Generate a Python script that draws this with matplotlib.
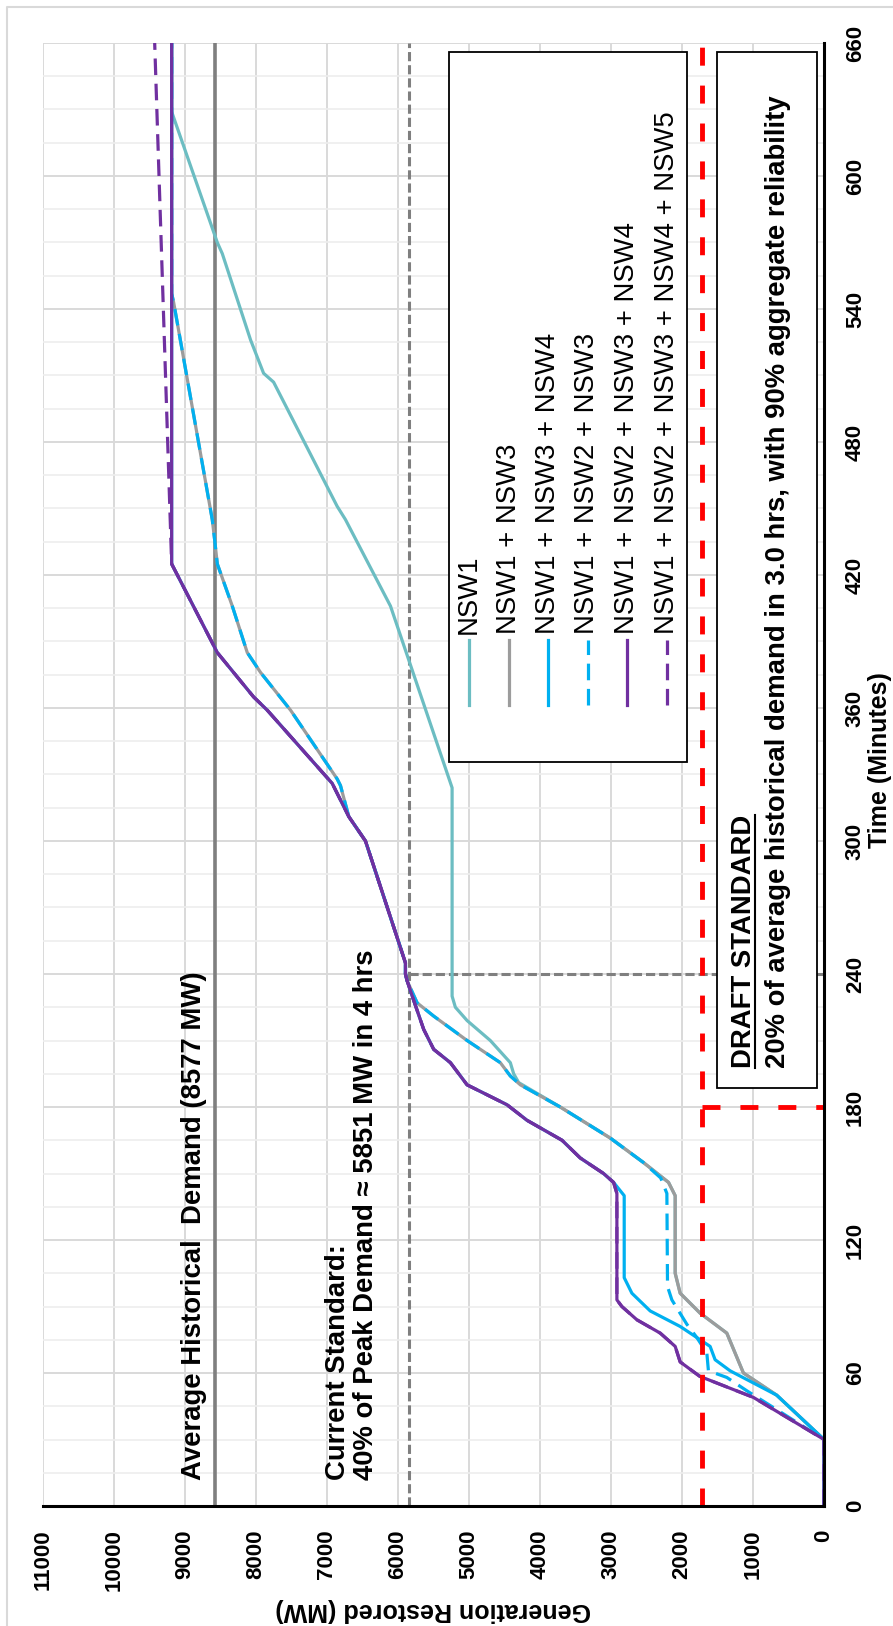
import matplotlib
matplotlib.use("Agg")
import matplotlib.pyplot as plt
from matplotlib.lines import Line2D
from matplotlib.patches import Rectangle
from matplotlib.ticker import MultipleLocator

plt.rcParams["font.family"] = ["Liberation Sans", "DejaVu Sans"]

# ---------------- restoration trajectories (minutes, MW) ----------------
t_nsw1 = [0, 30, 50, 60, 78, 87, 96, 105, 140, 146, 155, 166, 180, 191, 195, 200,
          210, 219, 225, 230, 324, 406, 445, 451, 507, 511, 526, 565, 570, 629, 660]
mw_nsw1 = [0, 0, 666, 1135, 1369, 1745, 2026, 2096, 2096, 2190, 2545, 3011, 3715, 4300,
           4371, 4418, 4700, 5027, 5192, 5238, 5238, 6106, 6740, 6857, 7752, 7893, 8076,
           8475, 8545, 9188, 9188]

t_nsw13 = [0, 30, 50, 60, 78, 87, 96, 105, 140, 146, 155, 166, 180, 190, 194, 200, 210,
           221, 227, 237, 240, 245, 300, 311, 325, 328, 359, 376, 385, 406, 425, 436, 445,
           543, 547, 660]
mw_nsw13 = [0, 0, 666, 1135, 1369, 1745, 2026, 2096, 2096, 2190, 2545, 3011, 3715, 4277,
            4418, 4559, 5027, 5497, 5731, 5872, 5895, 5895, 6458, 6693, 6810, 6857, 7513,
            7935, 8123, 8334, 8545, 8583, 8616, 9160, 9188, 9188]

t_nsw134 = [0, 30, 50, 61, 66, 72, 76, 81, 88, 96, 103, 140, 146, 150, 157, 165, 174, 181,
            190, 200, 206, 215, 228, 237, 240, 245, 300, 311, 326, 359, 365, 385, 425, 660]
mw_nsw134 = [0, 0, 666, 1323, 1534, 1604, 1791, 2026, 2448, 2706, 2814, 2814, 2964, 3105,
             3433, 3690, 4183, 4464, 5027, 5262, 5497, 5638, 5778, 5872, 5895, 5895, 6458,
             6693, 6927, 7841, 8034, 8545, 9188, 9188]

t_nsw123 = [0, 30, 52, 58, 61, 69, 76, 82, 93, 99, 141, 148, 155, 166, 180, 190, 194, 200,
            210, 221, 227, 237, 240, 245, 300, 311, 325, 328, 359, 376, 385, 406, 425, 436,
            445, 543, 547, 660]
mw_nsw123 = [0, 0, 1088, 1369, 1628, 1650, 1791, 1932, 2143, 2204, 2213, 2300, 2545, 3011,
             3715, 4277, 4418, 4559, 5027, 5497, 5731, 5872, 5895, 5895, 6458, 6693, 6810,
             6857, 7513, 7935, 8123, 8334, 8545, 8583, 8616, 9160, 9188, 9188]

t_nsw1234 = [0, 30, 49, 58.5, 65, 72, 78, 84, 90, 93, 141, 146, 150, 157, 165, 174, 181,
             190, 200, 206, 215, 228, 237, 240, 245, 300, 311, 326, 359, 365, 385, 425, 660]
mw_nsw1234 = [0, 0, 995, 1750, 2026, 2096, 2307, 2635, 2847, 2917, 2917, 2964, 3105, 3433,
              3690, 4183, 4464, 5027, 5262, 5497, 5638, 5778, 5872, 5895, 5895, 6458, 6693,
              6927, 7841, 8034, 8545, 9188, 9188]

t_nsw12345 = [0, 30, 49, 58.5, 65, 72, 78, 84, 90, 93, 141, 146, 150, 157, 165, 174, 181,
              190, 200, 206, 215, 228, 237, 240, 245, 300, 311, 326, 359, 365, 385, 425, 660]
mw_nsw12345 = [0, 0, 995, 1750, 2026, 2096, 2307, 2635, 2847, 2917, 2917, 2964, 3105, 3433,
               3690, 4183, 4464, 5027, 5262, 5497, 5638, 5778, 5872, 5895, 5895, 6458, 6693,
               6927, 7841, 8034, 8545, 9188, 9427]

series_labels = ["NSW1", "NSW1 + NSW3", "NSW1 + NSW3 + NSW4", "NSW1 + NSW2 + NSW3",
                 "NSW1 + NSW2 + NSW3 + NSW4", "NSW1 + NSW2 + NSW3 + NSW4 + NSW5"]
series_colors = ["#6CBDC2", "#9C9C9C", "#00B0F0", "#00B0F0", "#7030A0", "#7030A0"]
series_dashed = [False, False, False, True, False, True]
series_t = [t_nsw1, t_nsw13, t_nsw134, t_nsw123, t_nsw1234, t_nsw12345]
series_mw = [mw_nsw1, mw_nsw13, mw_nsw134, mw_nsw123, mw_nsw1234, mw_nsw12345]

# ---------------- standards ----------------
avg_demand_mw = 8577
current_std_mw = 5851
current_std_min = 240
draft_std_mw = 0.2 * avg_demand_mw
draft_std_min = 180

mw_ticks = list(range(0, 11001, 1000))
time_ticks = list(range(0, 661, 60))

# ---------------- figure ----------------
W, H = 893, 1626
fig = plt.figure(figsize=(W / 100, H / 100), dpi=100)
fig.patch.set_facecolor("white")
px_l, px_r, px_t, px_b = 43, 824, 43, 1506
ax = fig.add_axes([px_l / W, 1 - px_b / H, (px_r - px_l) / W, (px_b - px_t) / H])

ax.set_xlim(11000, 0)
ax.set_ylim(0, 660)
ax.set_xticks(mw_ticks)
ax.set_yticks(time_ticks)
ax.yaxis.set_minor_locator(MultipleLocator(15))
ax.set_axisbelow(True)
ax.grid(which="major", color="#D9D9D9", lw=1.4)
ax.grid(which="minor", axis="y", color="#EEEEEE", lw=1.2)

for side in ("left", "top"):
    ax.spines[side].set_visible(False)
for side in ("right", "bottom"):
    ax.spines[side].set_color("black")
    ax.spines[side].set_linewidth(2.2)
    ax.spines[side].set_zorder(7)

ax.yaxis.tick_right()
ax.tick_params(axis="both", which="both", length=0)
ax.tick_params(axis="x", pad=17, labelsize=16)
ax.tick_params(axis="y", pad=15, labelsize=16)
for lbl in ax.get_xticklabels():
    lbl.set_rotation(90)
    lbl.set_ha("center")
    lbl.set_va("top")
    lbl.set_fontweight("bold")
for lbl in ax.get_yticklabels():
    lbl.set_rotation(90)
    lbl.set_ha("left")
    lbl.set_va("center")
    lbl.set_fontweight("bold")

ax.set_xlabel("Generation Restored (MW)", rotation=180, fontsize=18, fontweight="bold",
              va="center", ha="center")
ax.xaxis.set_label_coords(0.5, -(1610 - px_b) / (px_b - px_t))
ax.yaxis.set_label_position("right")
ax.set_ylabel("Time (Minutes)", rotation=90, fontsize=18, fontweight="bold",
              va="center", ha="center")
ax.yaxis.set_label_coords((880 - px_l) / (px_r - px_l), 0.51)

# reference lines
ref_grey = "#7F7F7F"
ax.axvline(avg_demand_mw, color=ref_grey, lw=2.6, zorder=2)
ax.axvline(current_std_mw, color=ref_grey, lw=2.2, ls=(0, (3.0, 1.3)), zorder=2)
ax.plot([current_std_mw, 0], [current_std_min, current_std_min], color=ref_grey, lw=2.2,
        ls=(0, (3.0, 1.3)), zorder=2)

# restoration curves
for t, mw, c, dashed in zip(series_t, series_mw, series_colors, series_dashed):
    ax.plot(mw, t, color=c, lw=2.3, ls=(0, (5.2, 2.7)) if dashed else "-",
            solid_joinstyle="round", dash_joinstyle="round", zorder=3)

# draft standard (red)
ax.axvline(draft_std_mw, color="#FF0000", lw=3.5, ls=(0, (3.7, 4.1)), zorder=4)
ax.plot([draft_std_mw, 0], [draft_std_min, draft_std_min], color="#FF0000", lw=3.5,
        ls=(0, (3.7, 4.1)), zorder=4)

txt_fs = 19.8

# annotations
ax.annotate("Average Historical  Demand (8577 MW)", xy=(avg_demand_mw, 0),
            xytext=(-6, 18.7), textcoords="offset points", rotation=90,
            ha="right", va="bottom", fontsize=txt_fs, fontweight="bold", zorder=5)
ax.annotate("Current Standard:\n40% of Peak Demand \u2248 5851 MW in 4 hrs",
            xy=(current_std_mw, 0), xytext=(-21, 18.7), textcoords="offset points",
            rotation=90, ha="right", va="bottom", multialignment="left",
            linespacing=1.12, fontsize=txt_fs, fontweight="bold", zorder=5)


def fx(px):
    return (px - px_l) / (px_r - px_l)


def fy(py):
    return (px_b - py) / (px_b - px_t)


# legend
ax.add_patch(Rectangle((fx(449), fy(762)), fx(687) - fx(449), fy(52) - fy(762),
                       transform=ax.transAxes, facecolor="white", edgecolor="black",
                       lw=1.3, zorder=8, clip_on=False))
legend_cols = [469, 508.5, 548, 587.5, 627, 666.5]
for xc, lab, c, dashed in zip(legend_cols, series_labels, series_colors, series_dashed):
    ax.add_line(Line2D([fx(xc), fx(xc)], [fy(705), fy(640)], transform=ax.transAxes,
                       color=c, lw=2.3, ls=(0, (5.2, 2.7)) if dashed else "-",
                       zorder=9, clip_on=False))
    ax.text(fx(xc), fy(634), lab, transform=ax.transAxes, rotation=90, ha="center",
            va="bottom", fontsize=txt_fs, zorder=9)

# draft standard box
ax.add_patch(Rectangle((fx(717), fy(1088)), fx(817) - fx(717), fy(52) - fy(1088),
                       transform=ax.transAxes, facecolor="white", edgecolor="black",
                       lw=1.3, zorder=8, clip_on=False))
draft_title = ax.text(fx(731), fy(1068), "DRAFT STANDARD", transform=ax.transAxes,
                      rotation=90, ha="left", va="bottom", fontsize=txt_fs,
                      fontweight="bold", zorder=9)
ax.text(fx(765), fy(1068), "20% of average historical demand in 3.0 hrs, with 90% aggregate reliability",
        transform=ax.transAxes, rotation=90, ha="left", va="bottom", fontsize=txt_fs,
        fontweight="bold", zorder=9)

# underline the draft title
fig.canvas.draw()
bb = draft_title.get_window_extent(fig.canvas.get_renderer())
inv = ax.transAxes.inverted()
(ux, uy0) = inv.transform((bb.x1 - 2, bb.y0))
(_, uy1) = inv.transform((bb.x1 - 2, bb.y1))
ax.add_line(Line2D([ux, ux], [uy0, uy1], transform=ax.transAxes, color="black", lw=1.5,
                   zorder=9, clip_on=False))

# chart-area border
fig.add_artist(Line2D([7 / W, 7 / W, 1], [0, 1 - 7 / H, 1 - 7 / H], transform=fig.transFigure,
                      color="#D9D9D9", lw=1.5))

fig.savefig("out.png", dpi=100, facecolor="white")
